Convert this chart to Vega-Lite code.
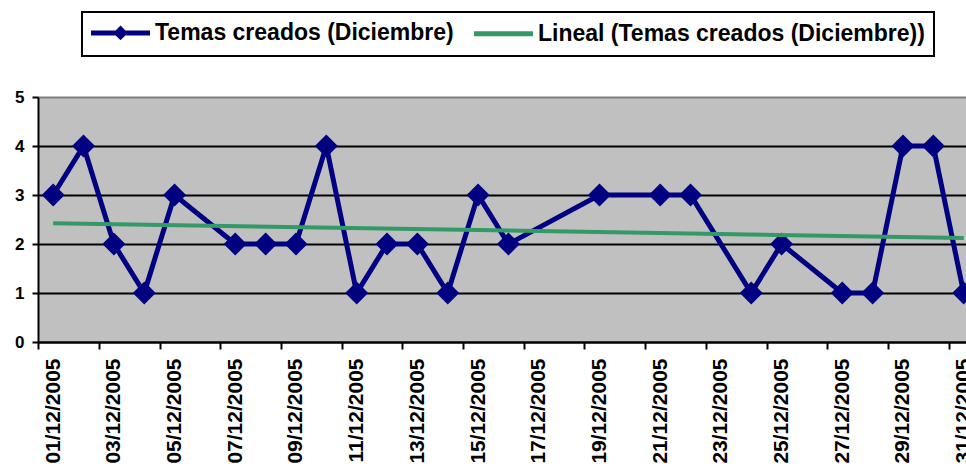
{
  "$schema": "https://vega.github.io/schema/vega-lite/v6.json",
  "width": 928,
  "height": 245,
  "autosize": {"type": "none"},
  "padding": {"left": 38, "top": 97, "right": 0, "bottom": 125},
  "background": "white",
  "config": {
    "font": "Liberation Sans",
    "view": {"fill": "#C0C0C0", "stroke": null}
  },
  "data": {
    "format": {"parse": {"date": "date"}},
    "values": [
      {"date": "2005-12-01", "value": 3},
      {"date": "2005-12-02", "value": 4},
      {"date": "2005-12-03", "value": 2},
      {"date": "2005-12-04", "value": 1},
      {"date": "2005-12-05", "value": 3},
      {"date": "2005-12-07", "value": 2},
      {"date": "2005-12-08", "value": 2},
      {"date": "2005-12-09", "value": 2},
      {"date": "2005-12-10", "value": 4},
      {"date": "2005-12-11", "value": 1},
      {"date": "2005-12-12", "value": 2},
      {"date": "2005-12-13", "value": 2},
      {"date": "2005-12-14", "value": 1},
      {"date": "2005-12-15", "value": 3},
      {"date": "2005-12-16", "value": 2},
      {"date": "2005-12-19", "value": 3},
      {"date": "2005-12-21", "value": 3},
      {"date": "2005-12-22", "value": 3},
      {"date": "2005-12-24", "value": 1},
      {"date": "2005-12-25", "value": 2},
      {"date": "2005-12-27", "value": 1},
      {"date": "2005-12-28", "value": 1},
      {"date": "2005-12-29", "value": 4},
      {"date": "2005-12-30", "value": 4},
      {"date": "2005-12-31", "value": 1}
    ]
  },
  "encoding": {
    "x": {
      "field": "date",
      "type": "temporal",
      "scale": {
        "type": "utc",
        "domain": [
          {"year": 2005, "month": 11, "date": 30, "hours": 12, "utc": true},
          {"year": 2005, "month": 12, "date": 31, "hours": 1, "minutes": 50, "utc": true}
        ]
      },
      "axis": {
        "title": null,
        "grid": false,
        "values": [
          {"year": 2005, "month": 12, "date": 1, "utc": true},
          {"year": 2005, "month": 12, "date": 3, "utc": true},
          {"year": 2005, "month": 12, "date": 5, "utc": true},
          {"year": 2005, "month": 12, "date": 7, "utc": true},
          {"year": 2005, "month": 12, "date": 9, "utc": true},
          {"year": 2005, "month": 12, "date": 11, "utc": true},
          {"year": 2005, "month": 12, "date": 13, "utc": true},
          {"year": 2005, "month": 12, "date": 15, "utc": true},
          {"year": 2005, "month": 12, "date": 17, "utc": true},
          {"year": 2005, "month": 12, "date": 19, "utc": true},
          {"year": 2005, "month": 12, "date": 21, "utc": true},
          {"year": 2005, "month": 12, "date": 23, "utc": true},
          {"year": 2005, "month": 12, "date": 25, "utc": true},
          {"year": 2005, "month": 12, "date": 27, "utc": true},
          {"year": 2005, "month": 12, "date": 29, "utc": true},
          {"year": 2005, "month": 12, "date": 31, "utc": true}
        ],
        "labelExpr": "utcFormat(datum.value, '%d/%m/%Y')",
        "labelAngle": -90,
        "labelAlign": "right",
        "labelBaseline": "middle",
        "labelFontSize": 21,
        "labelFontWeight": "bold",
        "labelColor": "black",
        "labelPadding": 9,
        "labelOverlap": false,
        "labelBound": false,
        "labelFlush": false,
        "tickOffset": -15,
        "labelOffset": 15,
        "tickSize": 7,
        "tickWidth": 2,
        "tickColor": "black",
        "domainColor": "black",
        "domainWidth": 2
      }
    },
    "y": {
      "field": "value",
      "type": "quantitative",
      "scale": {"domain": [0, 5], "nice": false, "zero": true},
      "axis": {
        "title": null,
        "values": [0, 1, 2, 3, 4, 5],
        "labelFontSize": 17,
        "labelFontWeight": "bold",
        "labelColor": "black",
        "labelPadding": 8,
        "tickSize": 6,
        "tickWidth": 2,
        "tickColor": "black",
        "domainColor": "black",
        "domainWidth": 2,
        "grid": true,
        "gridWidth": 2,
        "gridColor": {"condition": {"test": "datum.value === 5", "value": "#808080"}, "value": "black"}
      }
    }
  },
  "layer": [
    {
      "mark": {"type": "line", "strokeWidth": 5},
      "encoding": {
        "color": {
          "datum": "Temas creados (Diciembre)",
          "type": "nominal",
          "scale": {
            "domain": ["Temas creados (Diciembre)", "Lineal (Temas creados (Diciembre))"],
            "range": ["#000080", "#339966"]
          },
          "legend": {
            "orient": "none",
            "legendX": 44,
            "legendY": -85,
            "direction": "horizontal",
            "title": null,
            "labelFontSize": 23,
            "labelFontWeight": "bold",
            "labelColor": "black",
            "labelLimit": 600,
            "labelOffset": 41,
            "columnPadding": 10,
            "padding": 9,
            "strokeColor": "black",
            "symbolSize": 100,
            "symbolStrokeWidth": 5,
            "symbolType": "M-2.3,0H9.5",
            "encode": {
              "legend": {
                "update": {"strokeWidth": {"value": 2}}
              },
              "symbols": {
                "update": {
                  "shape": {"signal": "datum.value === 'Lineal (Temas creados (Diciembre))' ? 'M-2.3,0H9.5' : 'M-2.3,0H9.5M3.6,-0.75L4.35,0L3.6,0.75L2.85,0Z'"},
                  "fill": {"signal": "datum.value === 'Lineal (Temas creados (Diciembre))' ? 'transparent' : '#000080'"}
                }
              }
            }
          }
        }
      }
    },
    {
      "mark": {"type": "point", "shape": "diamond", "filled": true, "size": 529, "opacity": 1},
      "encoding": {
        "color": {"datum": "Temas creados (Diciembre)", "type": "nominal"}
      }
    },
    {
      "transform": [{"regression": "value", "on": "date"}],
      "mark": {"type": "line", "strokeWidth": 4},
      "encoding": {
        "color": {"datum": "Lineal (Temas creados (Diciembre))", "type": "nominal"}
      }
    }
  ]
}
